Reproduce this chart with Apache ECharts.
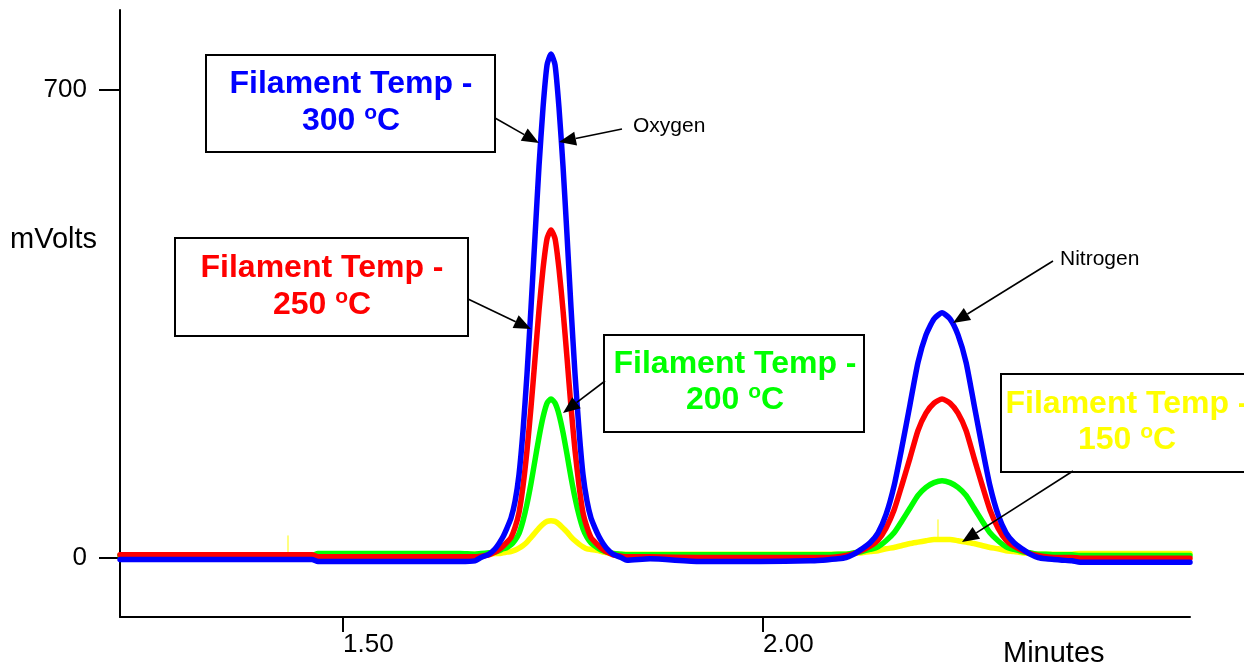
<!DOCTYPE html>
<html><head><meta charset="utf-8">
<script src="https://cdn.jsdelivr.net/npm/echarts@6/dist/echarts.min.js"></script>
<style>html,body{margin:0;padding:0;background:#fff}#c{width:1244px;height:665px}</style>
</head><body><div id="c"></div>
<script>
// ---- data ----
const minutes = [
  1.2345, 1.3298, 1.4250, 1.4631, 1.4702, 1.5679, 1.6393,
  1.6571, 1.6643, 1.6738, 1.6810, 1.6857, 1.6905, 1.6952, 1.7000, 1.7048, 1.7095, 1.7143, 1.7190,
  1.7238, 1.7286, 1.7333, 1.7381, 1.7429, 1.7476, 1.7524, 1.7571, 1.7619, 1.7667, 1.7714, 1.7762,
  1.7810, 1.7857, 1.7905, 1.7952, 1.8000, 1.8048, 1.8095, 1.8143, 1.8214, 1.8310, 1.8381,
  1.8655, 1.9250, 1.9964, 2.0560,
  2.0702, 2.0798, 2.0893, 2.0988, 2.1083, 2.1179, 2.1274, 2.1369, 2.1464, 2.1560, 2.1655, 2.1750,
  2.1845, 2.1940, 2.2036, 2.2131, 2.2226, 2.2321, 2.2417, 2.2512, 2.2607, 2.2702, 2.2798, 2.2893,
  2.2988, 2.3083, 2.3179, 2.3274, 2.3369, 2.3464, 2.3560,
  2.3679, 2.3774, 2.5083
];
const blue300 = [
  -2, -2, -2, -2, -5, -5, -5,
  -4, 1, 6, 14, 22, 32, 45, 60, 85, 125, 191, 275, 375, 482, 586, 674, 738, 754,
  738, 674, 586, 482, 375, 275, 191, 125, 85, 60, 45, 32, 22, 14, 6, 1, -3,
  -1, -5, -5, -4,
  -3, -2, -1, 1, 6, 14, 23, 38, 65, 108, 167, 230, 293, 334, 358, 367,
  358, 334, 293, 230, 167, 108, 65, 38, 23, 14, 6, 1, -1, -2, -3,
  -4, -6, -6
];
const red250 = [
  5, 5, 5, 5, 2, 2, 2,
  2, 3, 5, 9, 13, 18, 24, 31, 46, 68, 108, 161, 226, 299, 371, 433, 478, 491,
  478, 433, 371, 299, 226, 161, 108, 68, 46, 31, 24, 18, 13, 9, 5, 3, 2,
  2, 1, 1, 1,
  1, 1, 2, 4, 7, 12, 18, 27, 45, 72, 110, 150, 191, 217, 232, 238,
  232, 217, 191, 150, 110, 72, 45, 27, 18, 12, 7, 4, 2, 1, 1,
  1, 0, 0
];
const green200 = [
  4, 4, 4, 4, 7, 7, 7,
  6, 7, 8, 9, 11, 14, 16, 20, 27, 37, 56, 81, 112, 147, 181, 211, 232, 238,
  232, 215, 188, 155, 121, 90, 64, 44, 31, 23, 18, 14, 11, 9, 7, 6, 5,
  5, 5, 5, 5,
  5, 5, 6, 6, 8, 10, 13, 17, 26, 38, 56, 75, 94, 106, 113, 116,
  113, 106, 94, 75, 56, 38, 26, 17, 13, 10, 8, 6, 6, 5, 5,
  5, 4, 4
];
const yellow150 = [
  4, 4, 4, 4, 6, 6, 6,
  6, 6, 6, 7, 7, 8, 9, 10, 12, 15, 19, 24, 31, 38, 45, 51, 55, 56,
  55, 51, 45, 39, 32, 26, 21, 17, 14, 13, 12, 11, 9, 8, 7, 6, 6,
  6, 6, 6, 6,
  6, 6, 6, 6, 7, 8, 10, 11, 14, 16, 19, 22, 24, 26, 28, 28,
  28, 26, 24, 22, 19, 16, 14, 11, 10, 8, 7, 6, 6, 6, 6,
  6, 7, 7
];
const markerX = [1.4345, 2.2083];
const markerLow = [9, 31];
const markerHigh = [34, 58];
const xTicks = [1.5, 2.0];
const yTicks = [0, 700];
const tempLabels = ['300', '250', '200', '150'];

// ---- rendering ----
const FONT = '"Liberation Sans", Arial, Helvetica, sans-serif';
const COLORS = { b: '#0000FF', r: '#FF0000', g: '#00FF00', y: '#FFFF00' };

function pts(arr) { return minutes.map((m, i) => [m, arr[i]]); }

function arrow(x1, y1, x2, y2) {
  const dx = x2 - x1, dy = y2 - y1, L = Math.hypot(dx, dy);
  const ux = dx / L, uy = dy / L, hl = 17, hw = 7;
  const bx = x2 - ux * hl, by = y2 - uy * hl;
  return [
    { type: 'line', z: 100, shape: { x1: x1, y1: y1, x2: bx, y2: by }, style: { stroke: '#000', lineWidth: 1.6 } },
    { type: 'polygon', z: 100, shape: { points: [[x2, y2], [bx - uy * hw, by + ux * hw], [bx + uy * hw, by - ux * hw]] }, style: { fill: '#000' } }
  ];
}

function box(x, y, w, h, cx, base1, base2, color, temp) {
  return [
    { type: 'rect', z: 90, shape: { x: x, y: y, width: w, height: h }, style: { fill: '#fff', stroke: '#000', lineWidth: 2 } },
    { type: 'text', z: 95, x: cx, y: base1 - 11,
      style: { text: 'Filament Temp -', fill: color, fontSize: 32, fontWeight: 'bold', fontFamily: FONT, align: 'center', verticalAlign: 'middle' } },
    { type: 'text', z: 95, x: cx, y: base2 - 11,
      style: { text: '{n|' + temp + ' }{s|o}{n|C}', align: 'center', verticalAlign: 'middle',
        rich: {
          n: { fill: color, fontSize: 32, fontWeight: 'bold', fontFamily: FONT, lineHeight: 36, verticalAlign: 'middle' },
          s: { fill: color, fontSize: 21, fontWeight: 'bold', fontFamily: FONT, lineHeight: 23, verticalAlign: 'top' }
        } } }
  ];
}

const graphic = [].concat(
  box(206, 55, 289, 97, 351, 95, 132, COLORS.b, tempLabels[0]),
  box(175, 238, 293, 98, 322, 279, 316, COLORS.r, tempLabels[1]),
  box(604, 335, 260, 97, 735, 375, 411, COLORS.g, tempLabels[2]),
  box(1001, 374, 262, 98, 1127, 415, 451, COLORS.y, tempLabels[3]),
  arrow(495, 118, 539, 143),
  arrow(622, 129, 559, 142),
  arrow(468, 299, 531, 329),
  arrow(605, 381, 563, 413),
  arrow(1053, 261, 953, 323),
  arrow(1073, 471, 962, 542),
  [
    { type: 'text', z: 100, x: 633, y: 126, style: { text: 'Oxygen', fill: '#000', fontSize: 21, fontFamily: FONT, verticalAlign: 'middle' } },
    { type: 'text', z: 100, x: 1060, y: 259, style: { text: 'Nitrogen', fill: '#000', fontSize: 21, fontFamily: FONT, verticalAlign: 'middle' } },
    { type: 'text', z: 100, x: 10, y: 240, style: { text: 'mVolts', fill: '#000', fontSize: 29, fontFamily: FONT, verticalAlign: 'middle' } },
    { type: 'text', z: 100, x: 1003, y: 654, style: { text: 'Minutes', fill: '#000', fontSize: 29, fontFamily: FONT, verticalAlign: 'middle' } }
  ]
);

function lineSeries(name, arr, color) {
  return { name: name, type: 'line', data: pts(arr), showSymbol: false, symbol: 'none', smooth: 0.2,
    lineStyle: { color: color, width: 5.5, join: 'round', cap: 'round' }, itemStyle: { color: color }, z: 3 };
}
function marker(i) {
  return { type: 'line', data: [[markerX[i], markerLow[i]], [markerX[i], markerHigh[i]]], showSymbol: false, symbol: 'none',
    lineStyle: { color: COLORS.y, width: 1 }, z: 2 };
}

const chart = echarts.init(document.getElementById('c'), null, { renderer: 'canvas' });
chart.setOption({
  animation: false,
  backgroundColor: '#fff',
  grid: { left: 120, right: 54, top: 10, bottom: 48 },
  xAxis: {
    type: 'value', min: 1.2345, max: 2.5083,
    axisLine: { show: true, onZero: false, lineStyle: { color: '#000', width: 2 } },
    axisTick: { show: true, customValues: xTicks, length: 15, lineStyle: { color: '#000', width: 2 } },
    axisLabel: { customValues: xTicks, formatter: v => v.toFixed(2), align: 'left', margin: 15,
      fontSize: 26, color: '#000', fontFamily: FONT },
    splitLine: { show: false }
  },
  yAxis: {
    type: 'value', min: -88, max: 820,
    axisLine: { show: true, onZero: false, lineStyle: { color: '#000', width: 2 } },
    axisTick: { show: true, customValues: yTicks, length: 21, lineStyle: { color: '#000', width: 2 } },
    axisLabel: { customValues: yTicks, formatter: v => String(v), margin: 33,
      fontSize: 26, color: '#000', fontFamily: FONT },
    splitLine: { show: false }
  },
  graphic: graphic,
  series: [
    marker(0), marker(1),
    lineSeries('150 °C', yellow150, COLORS.y),
    lineSeries('200 °C', green200, COLORS.g),
    lineSeries('250 °C', red250, COLORS.r),
    lineSeries('300 °C', blue300, COLORS.b)
  ]
});
</script>
</body></html>
